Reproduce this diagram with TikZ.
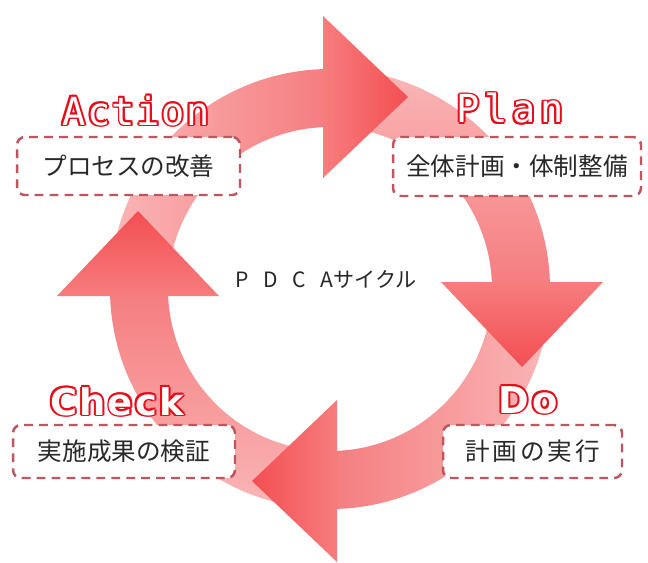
\documentclass[tikz,border=0pt]{standalone}
\usepackage{fontspec}
\setmainfont{DejaVu Sans}
\newfontfamily\jpfont{Noto Sans CJK JP}
\newfontfamily\labelmono{DejaVu Sans Mono}

\definecolor{phasered}{RGB}{230,12,25}
\definecolor{boxred}{RGB}{190,85,95}
\definecolor{textgray}{RGB}{40,40,40}
\definecolor{ringtail}{RGB}{250,182,182}
\definecolor{ringhead}{RGB}{245,125,128}
\definecolor{headbase}{RGB}{247,125,125}
\definecolor{headtip}{RGB}{243,78,82}

% outlined letters: red copies round a white one
\newcommand\offtxt[3]{\rlap{\kern#1\raisebox{#2}{\textcolor{phasered}{#3}}}}
\newcommand\outl[1]{%
  \offtxt{1.1pt}{0pt}{#1}\offtxt{-1.1pt}{0pt}{#1}%
  \offtxt{0pt}{1.1pt}{#1}\offtxt{0pt}{-1.1pt}{#1}%
  \offtxt{.8pt}{.8pt}{#1}\offtxt{-.8pt}{.8pt}{#1}%
  \offtxt{.8pt}{-.8pt}{#1}\offtxt{-.8pt}{-.8pt}{#1}%
  \textcolor{white}{#1}}

\tikzset{
  taskbox/.style={draw=boxred, line width=1.4pt, dash pattern=on 5pt off 3.5pt,
    rounded corners=4.5pt, fill=white, inner sep=0pt, text=textgray,
    font=\jpfont\fontsize{14}{16}\selectfont},
  monophase/.style={anchor=base, inner sep=0pt, font=\labelmono\fontsize{22}{26}\selectfont},
  sansphase/.style={anchor=base, inner sep=0pt, font=\bfseries\fontsize{21}{25}\selectfont},
}

\begin{document}
\begin{tikzpicture}[x=0.02cm, y=0.02cm]
  \path[use as bounding box, fill=white] (0,0) rectangle (648,562);

  \begin{scope}[shift={(330,273)}]
    % ring pieces
    \shade[left color=ringtail, right color=ringhead] (176:220) arc[start angle=176, end angle=91, radius=220] -- (91:162) arc[start angle=91, end angle=176, radius=162] -- cycle;
    \shade[top color=ringtail, bottom color=ringhead] (86:220) arc[start angle=86, end angle=1, radius=220] -- (1:162) arc[start angle=1, end angle=86, radius=162] -- cycle;
    \shade[right color=ringtail, left color=ringhead] (-4:220) arc[start angle=-4, end angle=-89, radius=220] -- (-89:162) arc[start angle=-89, end angle=-4, radius=162] -- cycle;
    \shade[bottom color=ringtail, top color=ringhead] (-94:220) arc[start angle=-94, end angle=-179, radius=220] -- (-179:162) arc[start angle=-179, end angle=-94, radius=162] -- cycle;
    % heads
    \shade[left color=headbase, right color=headtip] (-7,111) -- (-7,273) -- (78,192) -- cycle;
    \shade[top color=headbase, bottom color=headtip] (111,7) -- (273,7) -- (192,-78) -- cycle;
    \shade[right color=headbase, left color=headtip] (7,-111) -- (7,-273) -- (-78,-192) -- cycle;
    \shade[bottom color=headbase, top color=headtip] (-111,-7) -- (-273,-7) -- (-192,78) -- cycle;
  \end{scope}

  \node[font=\jpfont\fontsize{12}{14}\selectfont, text=textgray, anchor=base] (cycle) at (326,275) {{\addfontfeature{LetterSpace=70}PDCA}サイクル};

  \node[taskbox, minimum width=4.46cm, minimum height=1.16cm] (actbox) at (128.5,396) {プロセスの改善};
  \node[taskbox, minimum width=4.96cm, minimum height=1.18cm] (planbox) at (517,395.5) {全体計画・体制整備};
  \node[taskbox, minimum width=4.44cm, minimum height=1.06cm] (chkbox) at (124,110.5) {実施成果の検証};
  \node[taskbox, minimum width=3.58cm, minimum height=1.06cm] (dobox) at (532.5,110.5) {\addfontfeature{LetterSpace=12}計画の実行};

  \node[monophase] (act) at (136,437) {\addfontfeature{LetterSpace=4}\outl{Action}};
  \node[monophase] (plan) at (510,439) {\addfontfeature{LetterSpace=12}\outl{Plan}};
  \node[sansphase] (chk) at (117,147) {\addfontfeature{LetterSpace=6}\outl{Check}};
  \node[sansphase] (do) at (528,149) {\addfontfeature{LetterSpace=8}\outl{Do}};
\end{tikzpicture}
\end{document}
